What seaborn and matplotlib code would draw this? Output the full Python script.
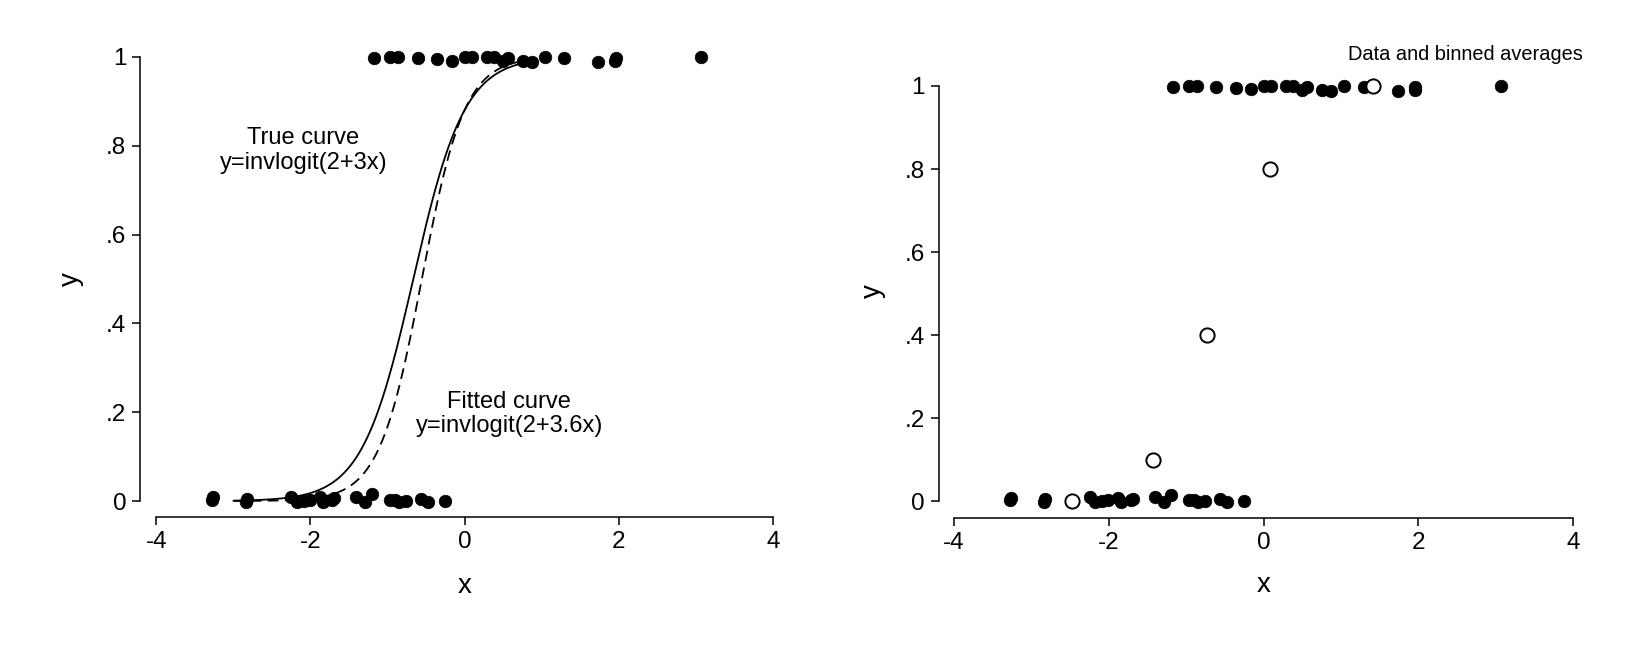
import numpy as np
import pandas as pd
import seaborn as sns
import matplotlib.pyplot as plt

# data points (y jittered a bit, as in the picture)
x_one = [-1.17, -0.97, -0.86, -0.61, -0.36, -0.16, 0.00, 0.10, 0.29, 0.38,
         0.50, 0.56, 0.76, 0.87, 1.04, 1.29, 1.73, 1.95, 1.96, 3.06]
y_one = [0.997, 0.999, 0.999, 0.998, 0.996, 0.992, 0.999, 0.999, 0.999, 0.999,
         0.990, 0.998, 0.991, 0.989, 0.999, 0.998, 0.989, 0.991, 0.997, 1.000]
x_zero = [-3.28, -3.27, -2.84, -2.82, -2.25, -2.18, -2.09, -2.01, -1.88, -1.84,
          -1.72, -1.69, -1.41, -1.29, -1.20, -0.97, -0.90, -0.85, -0.76, -0.57,
          -0.47, -0.25]
y_zero = [0.003, 0.008, -0.002, 0.005, 0.010, -0.002, 0.000, 0.003, 0.008, -0.002,
          0.002, 0.006, 0.010, -0.003, 0.015, 0.003, 0.003, -0.002, 0.000, 0.005,
          -0.002, -0.001]

# binned averages
bin_x = [-2.48, -1.43, -0.73, 0.08, 1.41]
bin_y = [0.0, 0.1, 0.4, 0.8, 1.0]

# curves y = invlogit(a + b x)
true_coef = (2, 3)
fit_coef = (2, 3.6)
curve_range = (-3.0, 0.8)

ytick_vals = [0, 0.2, 0.4, 0.6, 0.8, 1]
ytick_labels = ["0", ".2", ".4", ".6", ".8", "1"]
xtick_vals = [-4, -2, 0, 2, 4]

pts = pd.DataFrame({"x": x_one + x_zero, "y": y_one + y_zero})
bins = pd.DataFrame({"x": bin_x, "y": bin_y})

def invlogit(z):
    return 1 / (1 + np.exp(-z))

grid = np.linspace(curve_range[0], curve_range[1], 200)
curves = pd.DataFrame({
    "x": grid,
    "true": invlogit(true_coef[0] + true_coef[1] * grid),
    "fit": invlogit(fit_coef[0] + fit_coef[1] * grid),
})

sns.set_style("white")
plt.rcParams['font.family'] = ['Liberation Sans', 'DejaVu Sans']
plt.rcParams['text.color'] = 'black'
plt.rcParams['axes.labelcolor'] = 'black'
plt.rcParams['xtick.color'] = 'black'
plt.rcParams['ytick.color'] = 'black'

fig = plt.figure(figsize=(16.3, 6.52), dpi=100)
ax1 = fig.add_axes([0.08595, 0.20736, 0.39307, 0.71887])
ax2 = fig.add_axes([0.57583, 0.20598, 0.39411, 0.67485])


def style_axes(ax, x_left, y_bottom):
    ax.set_xlim(x_left, 4.1)
    ax.set_ylim(y_bottom, 1.02)
    for s in ["top", "right"]:
        ax.spines[s].set_visible(False)
    ax.spines["left"].set_bounds(0, 1)
    ax.spines["bottom"].set_bounds(-4, 4)
    for s in ["left", "bottom"]:
        ax.spines[s].set_color("black")
        ax.spines[s].set_linewidth(1.1)
    ax.set_xticks(xtick_vals)
    ax.set_xticklabels([str(v) for v in xtick_vals])
    ax.set_yticks(ytick_vals)
    ax.set_yticklabels(ytick_labels)
    ax.tick_params(direction="out", length=6, width=1.1, color="black",
                   labelcolor="black", labelsize=17.5, pad=4,
                   left=True, bottom=True)
    ax.set_xlabel("x", fontsize=20)
    ax.set_ylabel("y", fontsize=20)


# left panel: data plus true and fitted curves
sns.lineplot(data=curves, x="x", y="true", ax=ax1, color="black", lw=1.3)
sns.lineplot(data=curves, x="x", y="fit", ax=ax1, color="black", lw=1.3,
             linestyle=(0, (6, 3.5)))
sns.scatterplot(data=pts, x="x", y="y", ax=ax1, color="black", s=82,
                edgecolor="black", linewidth=0.5, zorder=3, clip_on=False)
style_axes(ax1, -4.21, -0.0355)
ax1.xaxis.set_label_coords(0.5066, -0.119)
ax1.yaxis.set_label_coords(-0.087, 0.507)
ax1.text(-2.09, 0.79, "True curve\ny=invlogit(2+3x)", ha="center", va="center",
         fontsize=17, linespacing=1.15)
ax1.text(0.58, 0.196, "Fitted curve\ny=invlogit(2+3.6x)", ha="center", va="center",
         fontsize=17, linespacing=1.15)

# right panel: data and binned averages
sns.scatterplot(data=pts, x="x", y="y", ax=ax2, color="black", s=82,
                edgecolor="black", linewidth=0.5, zorder=3, clip_on=False)
sns.scatterplot(data=bins, x="x", y="y", ax=ax2, s=105, facecolor="white",
                edgecolor="black", linewidth=1.4, zorder=4, clip_on=False)
style_axes(ax2, -4.2, -0.0402)
ax2.xaxis.set_label_coords(0.506, -0.124)
ax2.yaxis.set_label_coords(-0.082, 0.515)
ax2.text(4.13, 1.077, "Data and binned averages", ha="right", va="center",
         fontsize=14.4)

fig.savefig("out.png", dpi=100)
